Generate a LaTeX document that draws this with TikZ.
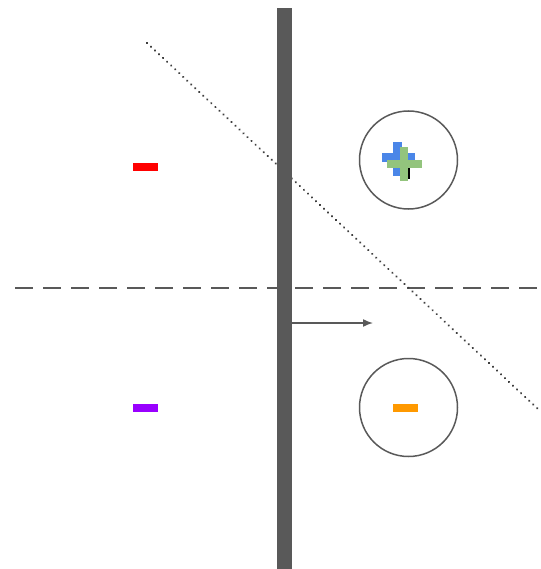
\documentclass[tikz,border=0pt]{standalone}
\usetikzlibrary{arrows.meta}
\definecolor{bar}{HTML}{595959}
\definecolor{pblue}{HTML}{4A86E8}
\definecolor{pgreen}{HTML}{93C47D}
\definecolor{pred}{HTML}{FF0000}
\definecolor{ppurple}{HTML}{9900FF}
\definecolor{porange}{HTML}{FF9900}
\begin{document}
\begin{tikzpicture}[x=1pt,y=-1pt,
  minusbar/.style={rectangle,minimum width=25pt,minimum height=8pt,inner sep=0pt,draw=none},
  ring/.style={circle,draw=bar,line width=1.5pt,minimum size=98pt,inner sep=0pt},
  hbar/.style={rectangle,inner sep=0pt,minimum width=34pt,minimum height=9pt},
  vbar/.style={rectangle,inner sep=0pt,minimum width=9pt,minimum height=34pt}]
\useasboundingbox (0,0) rectangle (540,569);
% dashed horizontal
\coordinate (dl) at (15,288);
\coordinate (dr) at (540,288);
\draw[bar,line width=2pt,dash pattern=on 18pt off 10pt] (dl) -- (dr);
% dotted diagonal
\coordinate (ta) at (147,43);
\coordinate (tb) at (538,409);
\draw[bar!70!black,line width=2.4pt,dash pattern=on 0.01pt off 5.5pt,line cap=round] (ta) -- (tb);
% vertical bar
\node[rectangle,fill=bar,inner sep=0pt,minimum width=15pt,minimum height=561pt] (wall) at (284,288.5) {};
% arrow
\coordinate (ah) at (373,323);
\draw[bar,line width=1.5pt,-{Latex[length=10pt,width=8pt]}] (wall.east |- ah) -- (ah);
% circles
\node[ring] (c1) at (408.5,160) {};
\node[ring] (c2) at (408.5,407.5) {};
% minus signs
\node[minusbar,fill=pred] (m1) at (145.5,167) {};
\node[minusbar,fill=ppurple] (m2) at (145.5,408) {};
\node[minusbar,fill=porange] (m3) at (405.5,408) {};
% plus signs
\node[hbar,fill=pblue,minimum width=33pt,minimum height=9pt] (pbh) at (398,158) {};
\node[vbar,fill=pblue,minimum width=9pt,minimum height=34pt] (pbv) at (397.5,159.5) {};
\fill[black] (405,168) rectangle (410,179);
\node[hbar,fill=pgreen,minimum width=35pt,minimum height=8pt] (pgh) at (404.5,164) {};
\node[vbar,fill=pgreen,minimum width=8pt,minimum height=34pt] (pgv) at (404,164) {};
\end{tikzpicture}
\end{document}
